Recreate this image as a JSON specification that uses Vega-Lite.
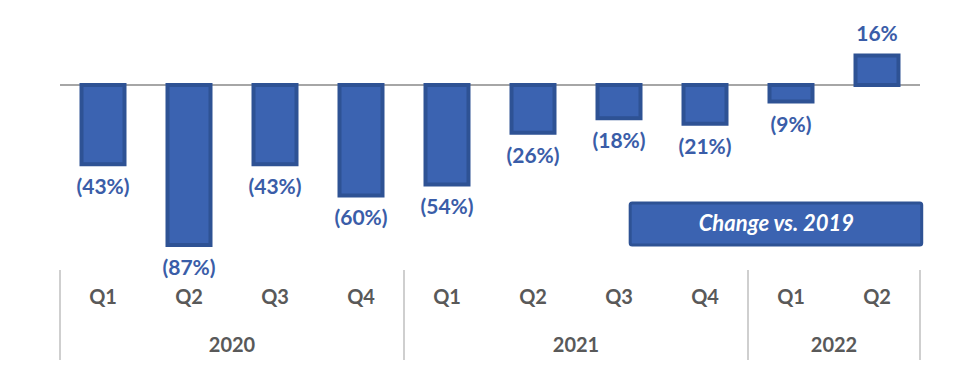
{
  "$schema": "https://vega.github.io/schema/vega-lite/v6.json",
  "width": 860,
  "height": 366,
  "autosize": {"type": "none"},
  "padding": {"left": 60, "right": 55, "top": 0, "bottom": 0},
  "background": "white",
  "config": {"view": {"stroke": null}, "font": "Lato"},
  "datasets": {
    "bars": [
      {"cat": "2020 Q1", "q": "Q1", "value": -43, "label": "(43%)"},
      {"cat": "2020 Q2", "q": "Q2", "value": -87, "label": "(87%)"},
      {"cat": "2020 Q3", "q": "Q3", "value": -43, "label": "(43%)"},
      {"cat": "2020 Q4", "q": "Q4", "value": -60, "label": "(60%)"},
      {"cat": "2021 Q1", "q": "Q1", "value": -54, "label": "(54%)"},
      {"cat": "2021 Q2", "q": "Q2", "value": -26, "label": "(26%)"},
      {"cat": "2021 Q3", "q": "Q3", "value": -18, "label": "(18%)"},
      {"cat": "2021 Q4", "q": "Q4", "value": -21, "label": "(21%)"},
      {"cat": "2022 Q1", "q": "Q1", "value": -9, "label": "(9%)"},
      {"cat": "2022 Q2", "q": "Q2", "value": 16, "label": "16%"}
    ],
    "years": [
      {"year": "2020", "start": 0, "end": 4},
      {"year": "2021", "start": 4, "end": 8},
      {"year": "2022", "start": 8, "end": 10}
    ],
    "seps": [{"pos": 0}, {"pos": 4}, {"pos": 8}, {"pos": 10}],
    "legend": [{"text": "Change vs. 2019", "x0": 6.63, "x1": 10.02, "xm": 8.33}]
  },
  "resolve": {"scale": {"x": "independent"}},
  "layer": [
    {
      "data": {"values": [{"a": 0, "b": 10}]},
      "mark": {"type": "rule", "color": "#A6A6A6", "strokeWidth": 2},
      "encoding": {
        "x": {"field": "a", "type": "quantitative", "scale": {"domain": [0, 10], "nice": false, "zero": false}, "axis": null},
        "x2": {"field": "b"},
        "y": {"datum": 0, "type": "quantitative", "scale": {"domain": [-152.7, 46.2], "nice": false, "zero": false}, "axis": null}
      }
    },
    {
      "data": {"name": "bars"},
      "layer": [
        {
          "mark": {"type": "bar", "fill": "#3B63B1", "stroke": "#2E5294", "strokeWidth": 4},
          "encoding": {
            "x": {"field": "cat", "type": "nominal", "sort": null, "scale": {"paddingInner": 0.5, "paddingOuter": 0.25}, "axis": null},
            "y": {"field": "value", "type": "quantitative", "axis": null},
            "y2": {"datum": 0}
          }
        },
        {
          "transform": [{"filter": "datum.value < 0"}],
          "mark": {"type": "text", "fontSize": 21, "fontWeight": "bold", "color": "#3A5DA8", "baseline": "middle", "dy": 24},
          "encoding": {
            "x": {"field": "cat", "type": "nominal", "sort": null},
            "y": {"field": "value", "type": "quantitative"},
            "text": {"field": "label"}
          }
        },
        {
          "transform": [{"filter": "datum.value >= 0"}],
          "mark": {"type": "text", "fontSize": 21, "fontWeight": "bold", "color": "#3A5DA8", "baseline": "middle", "dy": -21},
          "encoding": {
            "x": {"field": "cat", "type": "nominal", "sort": null},
            "y": {"field": "value", "type": "quantitative"},
            "text": {"field": "label"}
          }
        },
        {
          "mark": {"type": "text", "fontSize": 20, "fontWeight": "bold", "color": "#595959", "baseline": "middle"},
          "encoding": {
            "x": {"field": "cat", "type": "nominal", "sort": null},
            "y": {"datum": -115.8, "type": "quantitative"},
            "text": {"field": "q"}
          }
        }
      ]
    },
    {
      "data": {"name": "seps"},
      "mark": {"type": "rule", "color": "#BFBFBF", "strokeWidth": 1.5},
      "encoding": {
        "x": {"field": "pos", "type": "quantitative", "scale": {"domain": [0, 10], "nice": false, "zero": false}, "axis": null},
        "y": {"datum": -100.5, "type": "quantitative"},
        "y2": {"datum": -149.5}
      }
    },
    {
      "data": {"name": "years"},
      "transform": [{"calculate": "(datum.start + datum.end) / 2", "as": "mid"}],
      "mark": {"type": "text", "fontSize": 20, "fontWeight": "bold", "color": "#595959", "baseline": "middle"},
      "encoding": {
        "x": {"field": "mid", "type": "quantitative", "scale": {"domain": [0, 10], "nice": false, "zero": false}, "axis": null},
        "y": {"datum": -141.8, "type": "quantitative"},
        "text": {"field": "year"}
      }
    },
    {
      "data": {"name": "legend"},
      "layer": [
        {
          "mark": {"type": "rect", "fill": "#3B63B1", "stroke": "#2E5294", "strokeWidth": 3, "cornerRadius": 2},
          "encoding": {
            "x": {"field": "x0", "type": "quantitative", "scale": {"domain": [0, 10], "nice": false, "zero": false}, "axis": null},
            "x2": {"field": "x1"},
            "y": {"datum": -64.1, "type": "quantitative"},
            "y2": {"datum": -87}
          }
        },
        {
          "mark": {"type": "text", "fontSize": 22, "fontWeight": "bold", "fontStyle": "italic", "color": "white", "baseline": "middle"},
          "encoding": {
            "x": {"field": "xm", "type": "quantitative", "axis": null},
            "y": {"datum": -75.5, "type": "quantitative"},
            "text": {"field": "text"}
          }
        }
      ]
    }
  ]
}
